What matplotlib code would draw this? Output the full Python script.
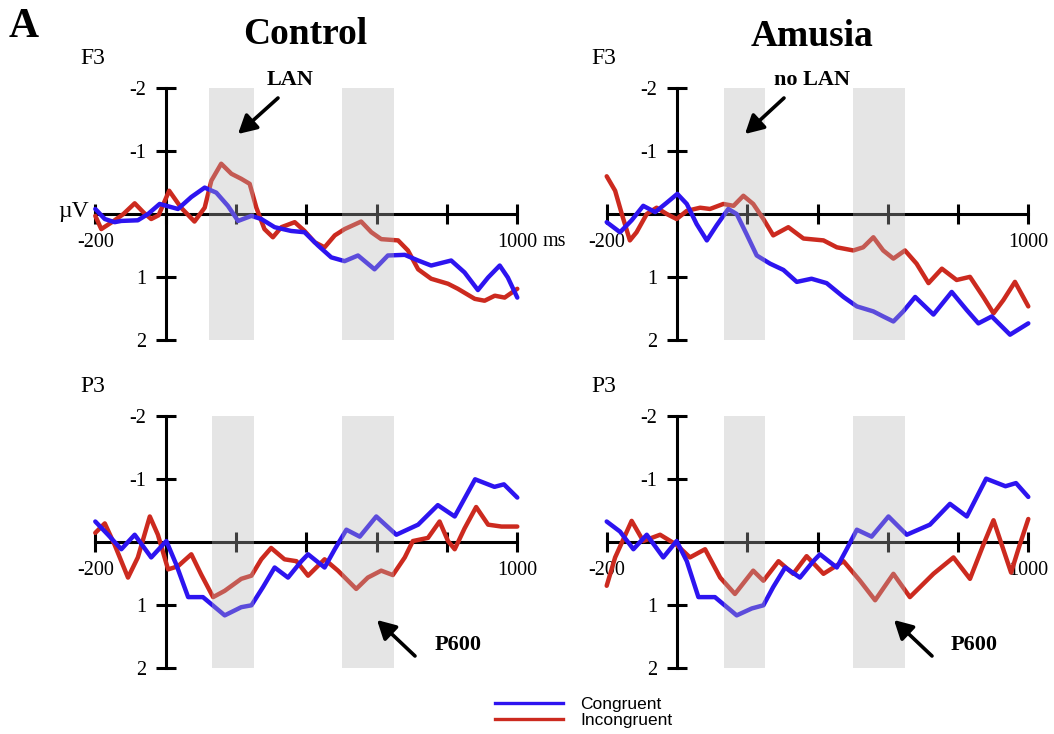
import matplotlib
matplotlib.use('Agg')
import matplotlib.pyplot as plt
from matplotlib.lines import Line2D

# ---------------- data ----------------
series_names = ['Congruent', 'Incongruent']
group_titles = ['Control', 'Amusia']
electrodes = ['F3', 'P3']
x_ticks = [-200, 0, 200, 400, 600, 800, 1000]
y_ticks = [-2, -1, 1, 2]
y_tick_labels = ['-2', '-1', '1', '2']

# Control, F3
ctrl_f3_cong_t = [-200, -173, -145, -126, -79, -50, -17, 35, 73, 111, 144, 177, 206, 244, 272, 310,
                  357, 395, 433, 471, 509, 547, 594, 632, 680, 718, 755, 812, 850, 888, 917, 950, 973, 1000]
ctrl_f3_cong_v = [-0.08, 0.08, 0.13, 0.11, 0.10, 0.00, -0.16, -0.08, -0.27, -0.42, -0.34, -0.13, 0.11, 0.03, 0.08, 0.21,
                  0.27, 0.29, 0.50, 0.69, 0.75, 0.66, 0.88, 0.66, 0.65, 0.74, 0.82, 0.74, 0.93, 1.21, 1.01, 0.82, 1.01, 1.33]
ctrl_f3_incg_t = [-200, -183, -150, -120, -88, -62, -41, -20, 10, 44, 82, 111, 130, 158, 187, 215, 239, 258,
                  281, 305, 329, 367, 395, 424, 452, 481, 509, 556, 585, 613, 661, 689, 718, 755, 803, 831,
                  879, 907, 936, 964, 1000]
ctrl_f3_incg_v = [0.03, 0.24, 0.12, 0.00, -0.17, -0.02, 0.08, 0.02, -0.37, -0.10, 0.12, -0.10, -0.53, -0.80, -0.64, -0.56, -0.48, -0.10,
                  0.24, 0.37, 0.21, 0.13, 0.27, 0.45, 0.53, 0.34, 0.24, 0.12, 0.29, 0.40, 0.42, 0.58, 0.88, 1.03, 1.11, 1.19,
                  1.35, 1.38, 1.30, 1.33, 1.19]

# Amusia, F3
am_f3_cong_t = [-200, -162, -129, -96, -62, -29, 1, 28, 56, 85, 113, 146, 170, 198, 227, 265, 303, 341, 383,
                426, 474, 512, 559, 587, 616, 644, 678, 730, 782, 825, 858, 896, 948, 1000]
am_f3_cong_v = [0.13, 0.29, 0.10, -0.13, -0.03, -0.18, -0.32, -0.16, 0.16, 0.42, 0.18, -0.08, 0.00, 0.32, 0.66, 0.79, 0.89, 1.08, 1.03,
                1.10, 1.32, 1.47, 1.55, 1.63, 1.71, 1.55, 1.32, 1.60, 1.24, 1.53, 1.74, 1.63, 1.92, 1.74]
am_f3_incg_t = [-200, -176, -157, -134, -115, -86, -58, -29, -1, 28, 66, 94, 132, 161, 189, 217, 246, 274, 317,
                360, 417, 455, 502, 530, 559, 587, 616, 649, 682, 716, 754, 796, 834, 872, 901, 929, 962, 1000]
am_f3_incg_v = [-0.60, -0.37, 0.00, 0.42, 0.29, 0.00, -0.10, 0.00, 0.08, -0.05, -0.10, -0.08, -0.16, -0.13, -0.29, -0.16, 0.08, 0.34, 0.21,
                0.39, 0.42, 0.53, 0.58, 0.53, 0.37, 0.58, 0.71, 0.58, 0.79, 1.10, 0.87, 1.05, 1.00, 1.32, 1.58, 1.37, 1.08, 1.47]

# Control, P3
ctrl_p3_cong_t = [-200, -164, -126, -88, -41, 2, 30, 64, 106, 168, 215, 244, 277, 310, 348, 386, 405, 452,
                  481, 514, 552, 599, 656, 718, 774, 822, 880, 935, 962, 1000]
ctrl_p3_cong_v = [-0.33, -0.12, 0.11, -0.12, 0.24, -0.02, 0.35, 0.87, 0.87, 1.16, 1.03, 1.00, 0.71, 0.40, 0.56, 0.30, 0.19, 0.40,
                  0.11, -0.20, -0.09, -0.41, -0.12, -0.28, -0.59, -0.41, -1.00, -0.88, -0.92, -0.71]
ctrl_p3_incg_t = [-200, -173, -145, -107, -79, -45, -22, 7, 35, 73, 101, 135, 168, 215, 244, 272, 300, 338, 372,
                  405, 452, 490, 542, 575, 613, 646, 680, 703, 746, 779, 803, 822, 850, 883, 917, 955, 1000]
ctrl_p3_incg_v = [-0.15, -0.30, 0.04, 0.56, 0.24, -0.41, -0.12, 0.43, 0.38, 0.19, 0.51, 0.87, 0.77, 0.58, 0.53, 0.27, 0.09, 0.27, 0.30,
                  0.53, 0.27, 0.45, 0.74, 0.56, 0.45, 0.52, 0.24, -0.02, -0.07, -0.33, -0.02, 0.11, -0.22, -0.56, -0.28, -0.25, -0.25]

# Amusia, P3
am_p3_cong_t = [-200, -162, -124, -86, -39, -1, 28, 61, 108, 170, 213, 246, 274, 308, 350, 388, 407, 455,
                483, 512, 554, 602, 654, 720, 777, 825, 880, 935, 965, 1000]
am_p3_cong_v = [-0.33, -0.17, 0.11, -0.12, 0.24, -0.02, 0.30, 0.87, 0.87, 1.16, 1.05, 1.00, 0.71, 0.40, 0.56, 0.30, 0.19, 0.40,
                0.11, -0.20, -0.09, -0.41, -0.12, -0.28, -0.61, -0.41, -1.01, -0.89, -0.94, -0.72]
am_p3_incg_t = [-200, -176, -129, -96, -48, -1, 37, 80, 123, 165, 217, 246, 289, 331, 369, 417, 474, 521, 564,
                616, 663, 730, 787, 834, 872, 901, 951, 975, 1000]
am_p3_incg_v = [0.69, 0.24, -0.34, -0.02, -0.12, 0.04, 0.24, 0.11, 0.56, 0.82, 0.45, 0.61, 0.30, 0.50, 0.22, 0.50, 0.30, 0.61, 0.92,
                0.50, 0.87, 0.50, 0.24, 0.58, 0.04, -0.35, 0.48, 0.05, -0.37]

# shaded analysis windows (ms)
windows_ctrl_f3 = [(122, 250), (502, 649)]
windows_other = [(133, 250), (502, 650)]

# ---------------- figure ----------------
W, H = 1054, 734
fig = plt.figure(figsize=(W / 100, H / 100), dpi=100)

SERIF = ['Liberation Serif', 'DejaVu Serif']
SANS = ['Liberation Sans', 'DejaVu Sans']
BLUE = '#2d14f0'
RED = '#cc2a1f'
SPAN_C = (0.714, 0.714, 0.714)


def add_panel(l, r, t, b):
    return fig.add_axes([l / W, 1 - b / H, (r - l) / W, (b - t) / H])


def style(ax, last_label):
    ax.set_xlim(-200, 1000)
    ax.set_ylim(2, -2)
    ax.patch.set_alpha(0)
    for s in ['top', 'right']:
        ax.spines[s].set_visible(False)
    for s in ['left', 'bottom']:
        ax.spines[s].set_position(('data', 0))
        ax.spines[s].set_linewidth(2.2)
        ax.spines[s].set_zorder(2.5)
    ax.set_xticks(x_ticks)
    ax.set_xticklabels(['-200', '', '', '', '', '', last_label])
    ax.set_yticks(y_ticks)
    ax.set_yticklabels(y_tick_labels)
    ax.tick_params(axis='both', direction='inout', length=14, width=2.2, labelsize=14.5)
    ax.tick_params(axis='y', pad=7)
    ax.tick_params(axis='x', pad=6.5)
    for lab in ax.get_xticklabels() + ax.get_yticklabels():
        lab.set_family(SERIF)


panels = [
    ((95.3, 517.3, 88.3, 339.7), ctrl_f3_cong_t, ctrl_f3_cong_v, ctrl_f3_incg_t, ctrl_f3_incg_v, windows_ctrl_f3),
    ((606.7, 1028.3, 88.3, 339.7), am_f3_cong_t, am_f3_cong_v, am_f3_incg_t, am_f3_incg_v, windows_other),
    ((95.3, 517.3, 416.3, 668.3), ctrl_p3_cong_t, ctrl_p3_cong_v, ctrl_p3_incg_t, ctrl_p3_incg_v, windows_other),
    ((606.7, 1028.3, 416.3, 668.3), am_p3_cong_t, am_p3_cong_v, am_p3_incg_t, am_p3_incg_v, windows_other),
]

for (box, ct, cv, it, iv, wins) in panels:
    ax = add_panel(*box)
    style(ax, '1000')
    ax.plot(it, iv, color=RED, lw=3.2, solid_joinstyle='round', solid_capstyle='round', zorder=3, clip_on=False)
    ax.plot(ct, cv, color=BLUE, lw=3.2, solid_joinstyle='round', solid_capstyle='round', zorder=4, clip_on=False)
    for a, b in wins:
        ax.axvspan(a, b, color=SPAN_C, alpha=0.35, lw=0, zorder=10)


def ftext(x, y, s, **kw):
    fig.text(x / W, 1 - y / H, s, **kw)


# panel letter and group titles
ftext(24, 27, 'A', family=SERIF, weight='bold', fontsize=30, ha='center', va='center')
ftext(305, 34, group_titles[0], family=SERIF, weight='bold', fontsize=27, ha='center', va='center')
ftext(812, 36, group_titles[1], family=SERIF, weight='bold', fontsize=27, ha='center', va='center')

# electrode labels
for x0 in (80, 591):
    ftext(x0, 59, electrodes[0], family=SERIF, fontsize=17, ha='left', va='center')
    ftext(x0, 386, electrodes[1], family=SERIF, fontsize=17, ha='left', va='center')

# unit labels
ftext(89, 212, 'µV', family=SERIF, fontsize=17, ha='right', va='center')
ftext(543, 241, 'ms', family=SERIF, fontsize=14.5, ha='left', va='center')

# component labels
ftext(290, 80, 'LAN', family=SERIF, weight='bold', fontsize=16, ha='center', va='center')
ftext(812, 80, 'no LAN', family=SERIF, weight='bold', fontsize=16, ha='center', va='center')
ftext(458, 645, 'P600', family=SERIF, weight='bold', fontsize=16, ha='center', va='center')
ftext(974, 645, 'P600', family=SERIF, weight='bold', fontsize=16, ha='center', va='center')

arrows = [((278, 98), (238, 134)), ((784, 98), (745, 134)),
          ((415, 656), (377, 620)), ((932, 656), (894, 620))]
for (x1, y1), (x2, y2) in arrows:
    fig.add_artist(matplotlib.patches.FancyArrowPatch(
        (x1, H - y1), (x2, H - y2), transform=None,
        arrowstyle='-|>,head_length=0.55,head_width=0.3', mutation_scale=20,
        lw=2.6, color='black', shrinkA=0, shrinkB=0))

# legend
handles = [Line2D([], [], color=BLUE, lw=2.4), Line2D([], [], color=RED, lw=2.4)]
fig.legend(handles, series_names, loc='upper left', bbox_to_anchor=(495 / W, 1 - 697 / H),
           frameon=False, handlelength=3.9, handletextpad=1.0, labelspacing=0.05,
           borderpad=0, borderaxespad=0, prop={'family': SANS, 'size': 12.5})

fig.savefig('out.png', dpi=100)
